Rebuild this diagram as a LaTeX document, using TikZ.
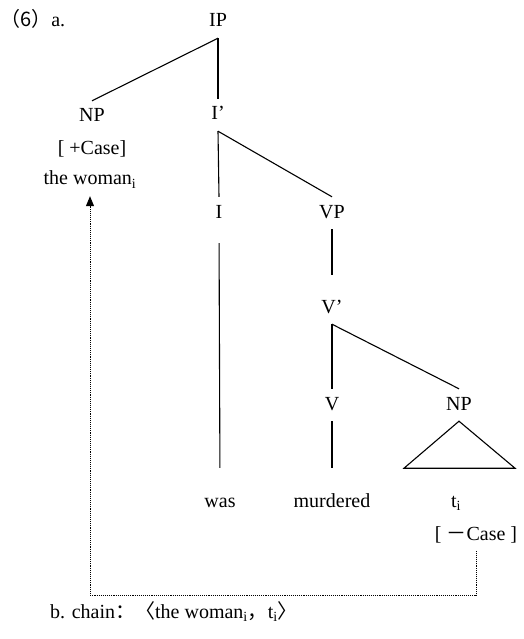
\documentclass[tikz,border=0pt]{standalone}
\usepackage{fontspec}
\setmainfont{Liberation Serif}
\newfontfamily\cjk{Noto Sans CJK SC}
\usetikzlibrary{arrows.meta}

\begin{document}
\begin{tikzpicture}[x=1pt, y=-1pt,
    cat/.style={inner sep=0pt, minimum height=32pt, text height=14pt, text depth=4pt,
                font=\fontsize{20}{24}\selectfont},
    branch/.style={line width=1.1pt},
    chainline/.style={densely dotted, line width=0.9pt, -{Triangle[width=8pt,length=10pt]}}]

    \useasboundingbox (0,0) rectangle (523,639);

    % Example number
    \node[cat, anchor=west] (num) at (0,22) {{\cjk （6）}a.};

    % Tree nodes
    \node[cat] (ip) at (218,22) {IP};
    \node[cat] (np) at (92,117) {NP};
    \node[cat] (pcase) at (92,150) {[ +Case]};
    \node[cat] (woman) at (90,180) {the woman\textsubscript{i}};
    \node[cat] (ibar) at (218,115) {I’};
    \node[cat] (i) at (219,213) {I};
    \node[cat] (vp) at (332,213) {VP};
    \node[cat] (vbar) at (332,308) {V’};
    \node[cat] (v) at (332,405) {V};
    \node[cat] (np2) at (459,405) {NP};

    % Words
    \node[cat] (was) at (220,502) {was};
    \node[cat] (murdered) at (332,502) {murdered};
    \node[cat] (trace) at (456,502) {t\textsubscript{i}};
    \node[cat] (mcase) at (476,535) {[ {\cjk －}Case ]};

    % Branches
    \draw[branch] (ip.south) -- (np.north);
    \draw[branch] (ip.south) -- (ibar.north);
    \draw[branch] (ibar.south) -- (i.north);
    \draw[branch] (ibar.south) -- (vp.north);
    \draw[branch, shorten <=14pt, shorten >=18pt] (i.south) -- (was.north);
    \draw[branch, shorten >=17pt] (vp.south) -- (vbar.north);
    \draw[branch] (vbar.south) -- (v.north);
    \draw[branch] (vbar.south) -- (np2.north);
    \draw[branch, shorten >=18pt] (v.south) -- (murdered.north);

    % Triangle under NP
    \draw[branch] (np2.south) -- ++(-55,47) -- ++(111,0) -- cycle;

    % Chain from trace to antecedent
    \draw[chainline] (mcase.south) -- ++(0,44) -| (woman.south);

    % Chain
    \node[cat, anchor=west] (chain) at (50,613)
        {b. chain{\cjk ：〈}the woman\textsubscript{i}{\cjk ，}t\textsubscript{i}{\cjk 〉}};

\end{tikzpicture}
\end{document}
